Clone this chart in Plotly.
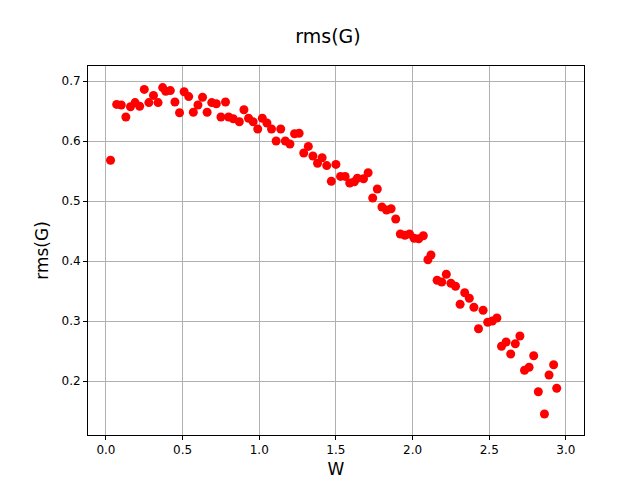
import plotly.graph_objects as go

W = [0.03, 0.07, 0.10, 0.13, 0.16, 0.19, 0.22, 0.25, 0.28, 0.31, 0.34, 0.37, 0.39, 0.42,
     0.45, 0.48, 0.51, 0.54, 0.57, 0.60, 0.63, 0.66, 0.69, 0.72, 0.75, 0.78, 0.80, 0.83,
     0.87, 0.90, 0.93, 0.96, 0.99, 1.02, 1.05, 1.08, 1.11, 1.14, 1.17, 1.20, 1.23, 1.26,
     1.29, 1.32, 1.35, 1.38, 1.41, 1.44, 1.47, 1.50, 1.53, 1.56, 1.59, 1.62, 1.64, 1.68,
     1.71, 1.74, 1.77, 1.80, 1.83, 1.86, 1.89, 1.92, 1.95, 1.98, 2.01, 2.04, 2.07, 2.10,
     2.12, 2.16, 2.19, 2.22, 2.25, 2.28, 2.31, 2.34, 2.37, 2.40, 2.43, 2.46, 2.49, 2.52,
     2.55, 2.58, 2.61, 2.64, 2.67, 2.70, 2.73, 2.76, 2.79, 2.82, 2.86, 2.89, 2.92, 2.94,
     2.96]
G = [0.568, 0.661, 0.660, 0.640, 0.657, 0.664, 0.658, 0.686, 0.664, 0.676, 0.664, 0.689,
     0.683, 0.684, 0.665, 0.647, 0.682, 0.674, 0.648, 0.660, 0.673, 0.648, 0.664, 0.662,
     0.640, 0.665, 0.640, 0.637, 0.632, 0.652, 0.638, 0.632, 0.620, 0.638, 0.630, 0.620,
     0.600, 0.620, 0.600, 0.595, 0.612, 0.613, 0.580, 0.591, 0.575, 0.563, 0.572, 0.559,
     0.533, 0.561, 0.541, 0.541, 0.530, 0.532, 0.538, 0.537, 0.547, 0.505, 0.520, 0.490,
     0.485, 0.487, 0.470, 0.445, 0.443, 0.445, 0.438, 0.437, 0.442, 0.402, 0.410, 0.368,
     0.365, 0.378, 0.363, 0.358, 0.328, 0.347, 0.338, 0.323, 0.287, 0.318, 0.298, 0.300,
     0.305, 0.258, 0.265, 0.245, 0.262, 0.275, 0.218, 0.223, 0.242, 0.182, 0.145, 0.210,
     0.227, 0.188]
W = W[:len(G)]

fig = go.Figure(go.Scatter(
    x=W, y=G, mode="markers",
    marker=dict(color="#ff0000", size=9, line=dict(width=0)),
))

axis = dict(showgrid=True, gridcolor="#b0b0b0", gridwidth=1, showline=True, mirror=True,
            linecolor="black", linewidth=1, ticks="outside", ticklen=4, tickcolor="black",
            zeroline=False, tickfont=dict(size=12, color="black"))
fig.update_xaxes(range=[-0.117, 3.118], tickvals=[0, 0.5, 1, 1.5, 2, 2.5, 3],
                 ticktext=["0.0", "0.5", "1.0", "1.5", "2.0", "2.5", "3.0"],
                 title=dict(text="W", font=dict(size=17, color="black"), standoff=6), **axis)
fig.update_yaxes(range=[0.11, 0.725], tickvals=[0.2, 0.3, 0.4, 0.5, 0.6, 0.7],
                 tickformat=".1f",
                 title=dict(text="rms(G)", font=dict(size=17, color="black"), standoff=8), **axis)
fig.update_layout(
    width=640, height=480, showlegend=False,
    paper_bgcolor="white", plot_bgcolor="white",
    font=dict(family="DejaVu Sans"),
    title=dict(text="rms(G)", x=0.5, xanchor="center", y=0.955, font=dict(size=19, color="black")),
    margin=dict(l=80, r=64, t=58, b=53),
)
fig.write_html("out.html")
